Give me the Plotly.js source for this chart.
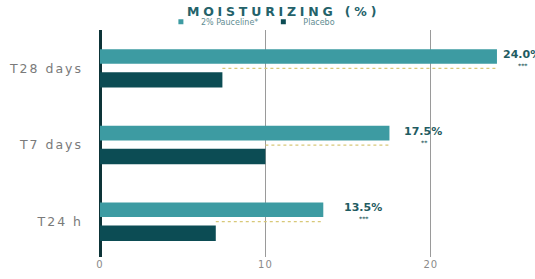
<!DOCTYPE html>
<html><head><meta charset="utf-8">
<script src="https://cdn.plot.ly/plotly-3.0.1.min.js"></script>
<style>
html,body{margin:0;padding:0;background:#fff;}
#c{width:535px;height:279px;}
.gtitle{letter-spacing:3.8px;}
.ytick text{letter-spacing:2px;}
.xtick text{letter-spacing:1px;}
</style></head>
<body><div id="c"></div>
<script>
const categories = ['T24 h', 'T7 days', 'T28 days'];
const activeValues = [13.5, 17.5, 24.0];
const placeboValues = [7.0, 10.0, 7.4];
const significance = ['***', '**', '***'];
const seriesNames = ['2% Pauceline*', 'Placebo'];
const xTicks = [0, 10, 20];

const teal = '#3d9ba2', dark = '#0c4c54';
const labelShift = [19, 13, 4];

const traces = [
  {type:'bar', orientation:'h', name:seriesNames[0], y:categories, x:activeValues,
   marker:{color:teal}, width:0.19, offset:0.06, hoverinfo:'skip', showlegend:false},
  {type:'bar', orientation:'h', name:seriesNames[1], y:categories, x:placeboValues,
   marker:{color:dark}, width:0.2, offset:-0.25, hoverinfo:'skip', showlegend:false}
];
categories.forEach((c,i)=>{
  traces.push({type:'scatter', mode:'lines', x:[placeboValues[i], activeValues[i]], y:[c,c],
    line:{color:'#d8c878', width:1.3, dash:'dot'}, showlegend:false, hoverinfo:'skip'});
});
// legend entries
[teal, dark].forEach((col,k)=>{
  traces.push({type:'scatter', mode:'markers', name:seriesNames[k], x:[null], y:[null],
    marker:{color:col, symbol:'square', size:5}, showlegend:true, hoverinfo:'skip'});
});

const annotations = [];
categories.forEach((c,i)=>{
  annotations.push({x:activeValues[i], y:c, yshift:14, xshift:labelShift[i], xanchor:'left', yanchor:'middle',
    text:'<b>'+activeValues[i].toFixed(1)+'%</b>', showarrow:false,
    font:{family:'DejaVu Sans', size:11, color:'#1f5c62'}});
  annotations.push({x:activeValues[i], y:c, yshift:3, xshift:labelShift[i]+22, xanchor:'center', yanchor:'middle',
    text:'<b>'+significance[i]+'</b>', showarrow:false,
    font:{family:'DejaVu Sans', size:6, color:'#1f5c62'}});
});

const layout = {
  width:535, height:279,
  margin:{l:100, r:0, t:30, b:22, autoexpand:false},
  paper_bgcolor:'#fff', plot_bgcolor:'#fff',
  barmode:'overlay',
  title:{text:'<b>MOISTURIZING (%)</b>', xref:'container', x:0.53, xanchor:'center',
    yref:'container', y:0.957, yanchor:'middle', automargin:false,
    font:{family:'DejaVu Sans', size:12.5, color:'#24626a'}},
  showlegend:true,
  legend:{orientation:'h', x:0.14, xanchor:'left', yref:'container', y:0.922, yanchor:'middle',
    font:{family:'DejaVu Sans', size:8, color:'#5f8d92'}, itemwidth:30, tracegroupgap:0,
    bgcolor:'rgba(0,0,0,0)'},
  xaxis:{range:[0,26.3], tickvals:xTicks, ticktext:xTicks.map(String), showgrid:true,
    gridcolor:'#9a9a9a', gridwidth:1, zeroline:true, zerolinecolor:'#0d3438', zerolinewidth:3,
    showline:false, ticks:'', tickfont:{family:'DejaVu Sans', size:10, color:'#8a8a8a'}, fixedrange:true},
  yaxis:{type:'category', categoryorder:'array', categoryarray:categories, range:[-0.46,2.5],
    showgrid:false, zeroline:false, showline:false, ticks:'', ticklabelstandoff:16,
    tickfont:{family:'DejaVu Sans', size:12.5, color:'#7a7a7a'}, fixedrange:true},
  annotations:annotations
};

Plotly.newPlot('c', traces, layout, {displayModeBar:false, staticPlot:true});
</script></body></html>
